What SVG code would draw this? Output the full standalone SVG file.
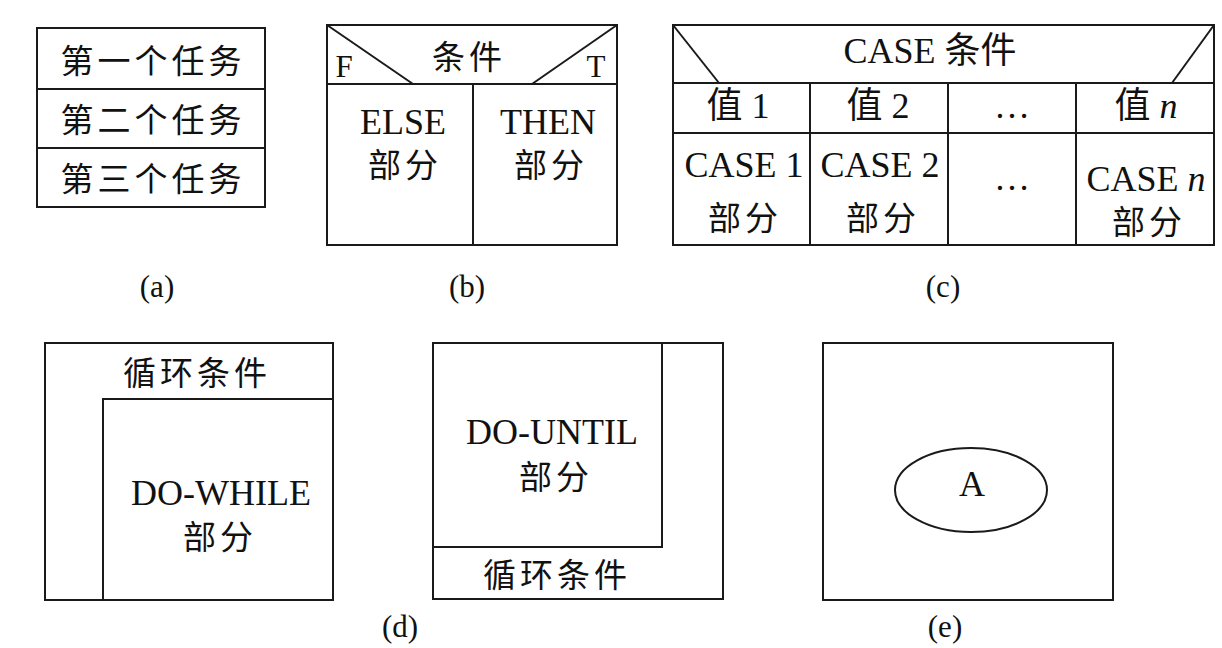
<svg xmlns="http://www.w3.org/2000/svg" width="1222" height="648" viewBox="0 0 1222 648">
<style>
.ln{fill:none;stroke:#1a1a1a;stroke-width:2}
.cj{font-family:"Noto Sans CJK SC","Noto Sans CJK JP",sans-serif;font-size:33px;fill:#111;text-anchor:middle;letter-spacing:4px}
.lt{font-family:"Liberation Serif","Times New Roman","Noto Sans CJK SC",serif;font-size:36px;fill:#111;text-anchor:middle}
.cap{font-family:"Liberation Serif","Times New Roman",serif;font-size:31px;fill:#111;text-anchor:middle}
</style>
<rect width="1222" height="648" fill="#fff"/>

<g id="panel-a">
<rect class="ln" x="37" y="28" width="228" height="179"/>
<line class="ln" x1="37" y1="89" x2="265" y2="89"/>
<line class="ln" x1="37" y1="148" x2="265" y2="148"/>
<text class="cj" x="153" y="73">第一个任务</text>
<text class="cj" x="153" y="132">第二个任务</text>
<text class="cj" x="153" y="191">第三个任务</text>
<text class="cap" x="157" y="297">(a)</text>
</g>

<g id="panel-b">
<rect class="ln" x="327" y="25" width="290" height="220"/>
<line class="ln" x1="327" y1="84" x2="617" y2="84"/>
<line class="ln" x1="473" y1="84" x2="473" y2="245"/>
<line class="ln" x1="327" y1="25" x2="413" y2="84"/>
<line class="ln" x1="617" y1="25" x2="532" y2="84"/>
<text class="lt" x="344" y="77" style="font-size:31px">F</text>
<text class="lt" x="596" y="77" style="font-size:31px">T</text>
<text class="cj" x="469" y="69">条件</text>
<text class="lt" x="403" y="134">ELSE</text>
<text class="cj" x="405" y="177">部分</text>
<text class="lt" x="548" y="134">THEN</text>
<text class="cj" x="551" y="177">部分</text>
<text class="cap" x="467" y="297">(b)</text>
</g>

<g id="panel-c">
<rect class="ln" x="673" y="25" width="541" height="220"/>
<line class="ln" x1="673" y1="83" x2="1214" y2="83"/>
<line class="ln" x1="673" y1="133" x2="1214" y2="133"/>
<line class="ln" x1="810" y1="83" x2="810" y2="245"/>
<line class="ln" x1="948" y1="83" x2="948" y2="245"/>
<line class="ln" x1="1076" y1="83" x2="1076" y2="245"/>
<line class="ln" x1="673" y1="25" x2="719" y2="83"/>
<line class="ln" x1="1214" y1="25" x2="1172" y2="83"/>
<text class="lt" x="930" y="63">CASE 条件</text>
<text class="lt" x="738" y="118">值 1</text>
<text class="lt" x="878" y="118">值 2</text>
<text class="lt" x="1012" y="118">…</text>
<text class="lt" x="1146" y="118">值 <tspan font-style="italic">n</tspan></text>
<text class="lt" x="744" y="177">CASE 1</text>
<text class="cj" x="745" y="230">部分</text>
<text class="lt" x="880" y="177">CASE 2</text>
<text class="cj" x="883" y="230">部分</text>
<text class="lt" x="1012" y="190">…</text>
<text class="lt" x="1146" y="191">CASE <tspan font-style="italic">n</tspan></text>
<text class="cj" x="1149" y="234">部分</text>
<text class="cap" x="943" y="297">(c)</text>
</g>

<g id="panel-d">
<rect class="ln" x="45" y="343" width="288" height="257"/>
<polyline class="ln" points="103,600 103,399 333,399"/>
<text class="cj" x="197" y="385">循环条件</text>
<text class="lt" x="221" y="505">DO-WHILE</text>
<text class="cj" x="220" y="549">部分</text>
<text class="cap" x="400" y="637">(d)</text>
</g>

<g id="panel-d2">
<rect class="ln" x="433" y="343" width="290" height="256"/>
<polyline class="ln" points="433,547 662,547 662,343"/>
<text class="lt" x="552" y="444">DO-UNTIL</text>
<text class="cj" x="556" y="489">部分</text>
<text class="cj" x="557" y="587">循环条件</text>
</g>

<g id="panel-e">
<rect class="ln" x="823" y="343" width="290" height="257"/>
<ellipse class="ln" cx="971" cy="490" rx="76" ry="42"/>
<text class="lt" x="972" y="496">A</text>
<text class="cap" x="945" y="637">(e)</text>
</g>
</svg>
